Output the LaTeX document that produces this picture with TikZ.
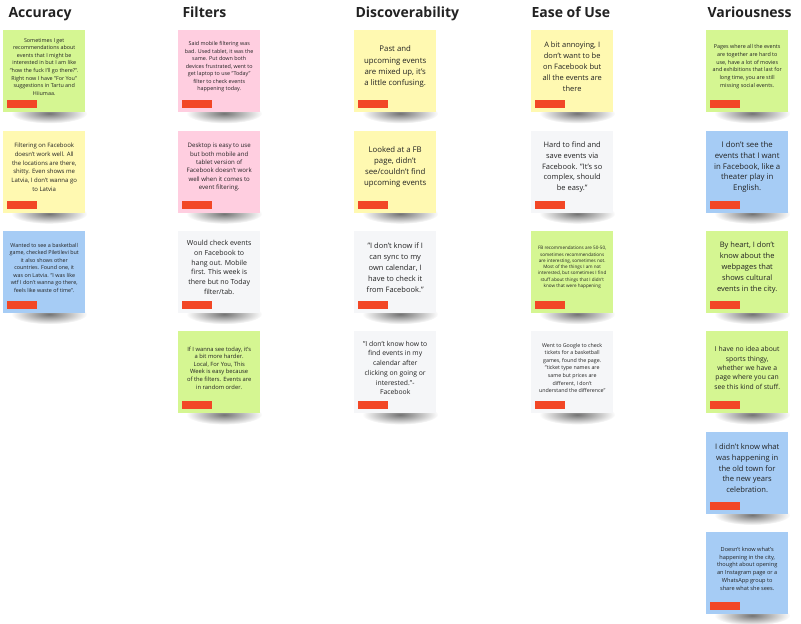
\documentclass[tikz,border=0pt]{standalone}
\usepackage{fontspec}
\setmainfont{Open Sans}
\usetikzlibrary{positioning,fadings,backgrounds}
\definecolor{notegreen}{HTML}{D5F692}
\definecolor{noteyellow}{HTML}{FFF9B1}
\definecolor{notepink}{HTML}{FFCEE0}
\definecolor{notegray}{HTML}{F5F6F8}
\definecolor{noteblue}{HTML}{A6CCF5}
\definecolor{tagred}{HTML}{F24726}
\definecolor{inktext}{HTML}{222222}
\tikzfading[name=softshadow, inner color=transparent!0, outer color=transparent!100]
\tikzset{
	sticky/.style={fill=#1, minimum width=82pt, minimum height=82pt, inner sep=0pt,
		path picture={\fill[tagred] ([shift={(4pt,4pt)}]path picture bounding box.south west) rectangle ++(30pt,8pt);}},
	liftshadow/.style={fill=black, opacity=.55, path fading=softshadow},
	notetext/.style={align=center, text=inktext, yshift=4.5pt, inner sep=0pt},
	fs/.style 2 args={font=\fontsize{#1}{#2}\selectfont},
	heading/.style={anchor=base west, text=inktext, font=\bfseries\fontsize{14}{17}\selectfont}
}
\begin{document}
\begin{tikzpicture}[x=1pt, y=-1pt, node distance=18pt]
	\path[use as bounding box] (0,0) rectangle (801,624);
	
	\node[heading] (hacc) at (5,17.5) {Accuracy};
	\node[heading] (hfil) at (179,17.5) {Filters};
	\node[heading] (hdis) at (352,17.5) {Discoverability};
	\node[heading] (heas) at (528,17.5) {Ease of Use};
	\node[heading] (hvar) at (704,17.5) {Variousness};
	
	%Accuracy
	\node[sticky=notegreen, anchor=north west, label={[notetext, fs={5.4}{7.6}]center:{Sometimes I get\\recommendations about\\events that I might be\\interested in but I am like\\"how the fuck I'll go there?".\\Right now I have "For You"\\suggestions in Tartu and\\Hiiumaa.}}] (acc1) at (3,30) {};
	\node[sticky=noteyellow, below=of acc1, label={[notetext, fs={6}{8.7}]center:{Filtering on Facebook\\doesn't work well. All\\the locations are there,\\shitty. Even shows me\\Latvia, I don't wanna go\\to Latvia}}] (acc2) {};
	\node[sticky=noteblue, below=of acc2, label={[notetext, fs={5.4}{7.5}]center:{Wanted to see a basketball\\game, checked Piletilevi but\\it also shows other\\countries. Found one, it\\was on Latvia. "I was like\\wtf I don't wanna go there,\\feels like waste of time".}}] (acc3) {};
	
	%Filters
	\node[sticky=notepink, anchor=north west, label={[notetext, fs={5.4}{7.5}]center:{Said mobile filtering was\\bad. Used tablet, it was the\\same. Put down both\\devices frustrated, went to\\get laptop to use "Today"\\filter to check events\\happening today.}}] (fil1) at (178,30) {};
	\node[sticky=notepink, below=of fil1, label={[notetext, fs={6.1}{8.4}]center:{Desktop is easy to use\\but both mobile and\\tablet version of\\Facebook doesn't work\\well when it comes to\\event filtering.}}] (fil2) {};
	\node[sticky=notegray, below=of fil2, label={[notetext, fs={7}{9.7}]center:{Would check events\\on Facebook to\\hang out. Mobile\\first. This week is\\there but no Today\\filter/tab.}}] (fil3) {};
	\node[sticky=notegreen, below=of fil3, label={[notetext, fs={5.8}{7.6}]center:{If I wanna see today, it's\\a bit more harder.\\Local, For You, This\\Week is easy because\\of the filters. Events are\\in random order.}}] (fil4) {};
	
	%Discoverability
	\node[sticky=noteyellow, anchor=north west, label={[notetext, fs={7.8}{11.2}]center:{Past and\\upcoming events\\are mixed up, it's\\a little confusing.}}] (dis1) at (354,30) {};
	\node[sticky=noteyellow, below=of dis1, label={[notetext, fs={7.8}{11}]center:{Looked at a FB\\page, didn't\\see/couldn't find\\upcoming events}}] (dis2) {};
	\node[sticky=notegray, below=of dis2, label={[notetext, fs={7.5}{11}]center:{"I don't know if I\\can sync to my\\own calendar, I\\have to check it\\from Facebook."}}] (dis3) {};
	\node[sticky=notegray, below=of dis3, label={[notetext, fs={6.8}{9.7}]center:{"I don't know how to\\find events in my\\calendar after\\clicking on going or\\interested."-\\Facebook}}] (dis4) {};
	
	%Ease of Use
	\node[sticky=noteyellow, anchor=north west, label={[notetext, fs={7.5}{11}]center:{A bit annoying, I\\don't want to be\\on Facebook but\\all the events are\\there}}] (eas1) at (531,30) {};
	\node[sticky=notegray, below=of eas1, label={[notetext, fs={7.5}{10.8}]center:{Hard to find and\\save events via\\Facebook. "It's so\\complex, should\\be easy."}}] (eas2) {};
	\node[sticky=notegreen, below=of eas2, label={[notetext, fs={4.6}{6.3}]center:{FB recommendations are 50-50,\\sometimes recommendations\\are interesting, sometimes not.\\Most of the things I am not\\interested, but sometimes I find\\stuff about things that I didn't\\know that were happening}}] (eas3) {};
	\node[sticky=notegray, below=of eas3, label={[notetext, fs={5.3}{7.6}]center:{Went to Google to check\\tickets for a basketball\\games, found the page.\\"ticket type names are\\same but prices are\\different, I don't\\understand the difference"}}] (eas4) {};
	
	%Variousness
	\node[sticky=notegreen, anchor=north west, label={[notetext, fs={5.4}{7.7}]center:{Pages where all the events\\are together are hard to\\use, have a lot of movies\\and exhibitions that last for\\long time, you are still\\missing social events.}}] (var1) at (706,30) {};
	\node[sticky=noteblue, below=of var1, label={[notetext, fs={7.8}{10.8}]center:{I don't see the\\events that I want\\in Facebook, like a\\theater play in\\English.}}] (var2) {};
	\node[sticky=notegreen, below=of var2, label={[notetext, fs={7.5}{11.2}]center:{By heart, I don't\\know about the\\webpages that\\shows cultural\\events in the city.}}] (var3) {};
	\node[sticky=notegreen, below=of var3, label={[notetext, fs={6.8}{9.3}]center:{I have no idea about\\sports thingy,\\whether we have a\\page where you can\\see this kind of stuff.}}] (var4) {};
	\node[sticky=noteblue, below=of var4, label={[notetext, fs={7.6}{10.8}]center:{I didn't know what\\was happening in\\the old town for\\the new years\\celebration.}}] (var5) {};
	\node[sticky=noteblue, below=of var5, label={[notetext, fs={5.6}{7.7}]center:{Doesn't know what's\\happening in the city,\\thought about opening\\an Instagram page or a\\WhatsApp group to\\share what she sees.}}] (var6) {};
	
	\begin{scope}[on background layer]
		\fill[white] (0,0) rectangle (801,624);
		\foreach \n in {acc1,acc2,acc3,fil1,fil2,fil3,fil4,dis1,dis2,dis3,dis4,eas1,eas2,eas3,eas4,var1,var2,var3,var4,var5,var6}
			\fill[liftshadow] ([xshift=5pt,yshift=-1pt]\n.south) ellipse (38 and 10);%Schatten
	\end{scope}
\end{tikzpicture}
\end{document}
